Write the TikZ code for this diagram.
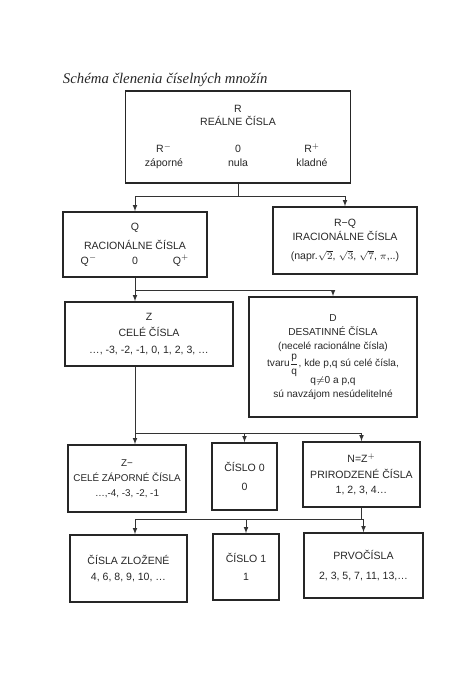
\documentclass[tikz,border=0pt]{standalone}
\usepackage{amsmath,amssymb}
\usepackage{fontspec}
\setmainfont{Liberation Sans}
\newfontfamily\titleserif{Liberation Serif}
\usepackage{tikz}
\usetikzlibrary{shapes,arrows,positioning}

\begin{document}
\begin{tikzpicture}[
    x=0.025cm, y=-0.025cm, >=latex,
    set/.style={rectangle, draw=black!85, line width=1.2pt, inner sep=1pt, align=center,
                text=black!85, font=\fontsize{7.5}{11}\selectfont},
    link/.style={draw=black!80, line width=0.5pt}]
    \useasboundingbox (0,0) rectangle (471,681);
    \node[anchor=west, text=black!85, font=\titleserif\itshape\fontsize{10.5}{12}\selectfont] (title) at (58,80) {Schéma členenia číselných množín};

    % real numbers
    \node[set, minimum width=4.9cm, minimum height=2.3cm] (R) at (238,137)
        {R\\[-1.5pt] REÁLNE ČÍSLA\\[8pt]
         \makebox[1.85cm]{R$^{-}$}\makebox[1.85cm]{0}\makebox[1.85cm]{R$^{+}$}\\[-1pt]
         \makebox[1.85cm]{záporné}\makebox[1.85cm]{nula}\makebox[1.85cm]{kladné}};
    \node[set, minimum width=3.6cm, minimum height=1.625cm] (Q) at (135,244.5)
        {Q\\[3pt] RACIONÁLNE ČÍSLA\\[-1pt]
         \makebox[1.15cm]{Q$^{-}$}\makebox[1.15cm]{0}\makebox[1.15cm]{Q$^{+}$}};
    \node[set, minimum width=3.6cm, minimum height=1.675cm] (RQ) at (345,240.5)
        {R−Q\\[-1pt] IRACIONÁLNE ČÍSLA\\[2pt] (napr.$\sqrt{2}$, $\sqrt{3}$, $\sqrt{7}$, $\pi$,..)};

    % rational numbers
    \node[set, minimum width=4.2cm, minimum height=1.6cm] (Z) at (149,334)
        {Z\\[1pt] CELÉ ČÍSLA\\[1pt] …, -3, -2, -1, 0, 1, 2, 3, …};
    \node[set, minimum width=4.2cm, minimum height=3cm, font=\fontsize{7.2}{11}\selectfont] (D) at (333,357)
        {D\\[-1pt] DESATINNÉ ČÍSLA\\[-1pt] (necelé racionálne čísla)\\[1pt]
         tvaru$\dfrac{\text{p}}{\text{q}}$, kde p,q sú celé čísla,\\[-1pt]
         q$\neq$0 a p,q\\[-1pt] sú navzájom nesúdelitelné};

    % integers
    \node[set, minimum width=2.95cm, minimum height=1.675cm, font=\fontsize{7}{10.5}\selectfont] (Zm) at (127,478.5)
        {Z−\\ CELÉ ZÁPORNÉ ČÍSLA\\ …,-4, -3, -2, -1};
    \node[set, minimum width=1.625cm, minimum height=1.675cm] (C0) at (244.5,476.5)
        {ČÍSLO 0\\[2pt] 0};
    \node[set, minimum width=2.925cm, minimum height=1.625cm] (N) at (361.5,474.5)
        {N=Z$^{+}$\\ PRIRODZENÉ ČÍSLA\\ 1, 2, 3, 4…};

    % natural numbers
    \node[set, minimum width=2.925cm, minimum height=1.675cm] (Zl) at (128.5,568.5)
        {ČÍSLA ZLOŽENÉ\\ 4, 6, 8, 9, 10, …};
    \node[set, minimum width=1.65cm, minimum height=1.65cm] (C1) at (246,567)
        {ČÍSLO 1\\[2pt] 1};
    \node[set, minimum width=2.975cm, minimum height=1.625cm] (P) at (363.5,565.5)
        {PRVOČÍSLA\\[3pt] 2, 3, 5, 7, 11, 13,…};

    % connectors
    \coordinate (rj) at (R.south |- 0,196);
    \draw[link] (R.south) -- (rj);
    \draw[link,->] (rj) -| (Q.north);
    \draw[link,->] (rj) -| (RQ.north);

    \coordinate (qj) at (Q.south |- 0,290);
    \draw[link] (Q.south) -- (qj);
    \draw[link,->] (qj) -- (qj |- Z.north);
    \draw[link,->] (qj) -| (D.north);

    \coordinate (zj) at (qj |- 0,433);
    \draw[link] (Z.south -| zj) -- (zj);
    \draw[link,->] (zj) -- (zj |- Zm.north);
    \draw[link,->] (zj) -| (C0.north);
    \draw[link,->] (zj) -| (N.north);

    \coordinate (nj) at (N.south |- 0,519);
    \draw[link] (N.south) -- (nj);
    \draw[link,->] (nj) -| (zj |- Zl.north);
    \draw[link,->] (nj) -| (C1.north);
    \draw[link,->] (nj) -| (P.north);
\end{tikzpicture}
\end{document}
